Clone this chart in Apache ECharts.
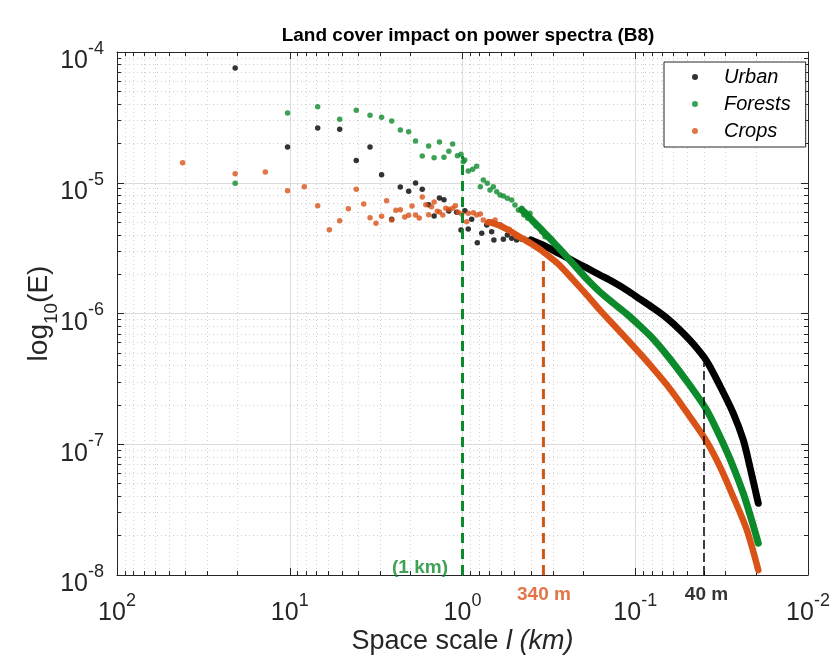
<!DOCTYPE html>
<html>
<head>
<meta charset="utf-8">
<title>Land cover impact on power spectra (B8)</title>
<script src="https://cdn.jsdelivr.net/npm/echarts@6/dist/echarts.min.js"></script>
<style>
html, body { margin: 0; padding: 0; background: #fff; }
#main { width: 837px; height: 660px; }
</style>
</head>
<body>
<div id="main"></div>
<script>
// [space scale (km), E]
// scattered points at large scales + the cloud before the curves tighten
var urbanPts = [[20.7, 7.54e-5], [10.3, 1.88e-5], [6.89, 2.62e-5], [5.14, 2.56e-5], [4.12, 1.48e-5],
  [3.43, 1.88e-5], [2.94, 1.15e-5], [2.57, 5.25e-6], [2.29, 9.28e-6], [2.05, 8.60e-6], [1.87, 9.96e-6],
  [1.71, 8.91e-6], [1.57, 6.79e-6], [1.46, 5.57e-6], [1.36, 7.64e-6], [1.28, 7.42e-6], [1.20, 6.08e-6],
  [1.08, 5.94e-6], [1.02, 4.35e-6], [0.968, 6.11e-6], [0.926, 4.43e-6], [0.885, 5.25e-6], [0.821, 3.48e-6],
  [0.774, 4.11e-6], [0.724, 4.75e-6], [0.678, 4.22e-6], [0.658, 3.65e-6], [0.606, 4.75e-6], [0.580, 3.69e-6],
  [0.550, 3.98e-6], [0.519, 3.76e-6], [0.486, 3.65e-6], [0.454, 3.69e-6], [0.425, 3.65e-6], [0.398, 3.65e-6],
  [0.370, 3.48e-6], [0.348, 3.40e-6], [0.326, 3.21e-6], [0.305, 3.06e-6], [0.286, 2.92e-6]];
var forestPts = [[20.7, 9.90e-6], [10.3, 3.42e-5], [6.89, 3.82e-5], [5.14, 3.06e-5], [4.12, 3.58e-5],
  [3.43, 3.28e-5], [2.94, 3.17e-5], [2.57, 2.97e-5], [2.29, 2.53e-5], [2.05, 2.46e-5], [1.87, 2.09e-5],
  [1.71, 1.60e-5], [1.57, 1.91e-5], [1.46, 1.55e-5], [1.36, 2.05e-5], [1.28, 1.57e-5], [1.20, 1.74e-5],
  [1.14, 1.98e-5], [1.07, 1.61e-5], [1.02, 1.65e-5], [0.99, 1.45e-5], [0.971, 1.49e-5], [0.926, 1.23e-5],
  [0.873, 1.27e-5], [0.828, 1.34e-5], [0.788, 9.33e-6], [0.758, 1.05e-5], [0.719, 9.90e-6], [0.693, 8.81e-6],
  [0.663, 9.33e-6], [0.634, 8.54e-6], [0.606, 8.06e-6], [0.580, 7.92e-6], [0.550, 7.60e-6], [0.519, 7.38e-6],
  [0.497, 6.76e-6], [0.475, 6.19e-6], [0.454, 6.38e-6], [0.441, 5.67e-6], [0.419, 5.34e-6], [0.407, 5.84e-6],
  [0.389, 5.04e-6], [0.375, 4.67e-6], [0.359, 4.56e-6], [0.348, 4.22e-6], [0.333, 3.87e-6], [0.319, 3.83e-6],
  [0.298, 3.54e-6], [0.279, 3.24e-6]];
var cropPts = [[41.7, 1.42e-5], [20.7, 1.17e-5], [13.85, 1.21e-5], [10.3, 8.70e-6], [8.24, 9.33e-6],
  [6.89, 6.68e-6], [5.90, 4.37e-6], [5.14, 5.13e-6], [4.58, 6.33e-6], [4.12, 8.91e-6], [3.73, 6.88e-6],
  [3.43, 5.40e-6], [3.17, 4.90e-6], [2.94, 5.54e-6], [2.75, 7.29e-6], [2.57, 5.19e-6], [2.43, 6.15e-6],
  [2.29, 6.22e-6], [2.16, 5.47e-6], [2.05, 5.64e-6], [1.96, 6.64e-6], [1.87, 5.67e-6], [1.78, 5.37e-6],
  [1.71, 7.78e-6], [1.63, 6.79e-6], [1.57, 5.70e-6], [1.51, 6.56e-6], [1.46, 7.12e-6], [1.40, 6.05e-6],
  [1.36, 5.97e-6], [1.30, 5.67e-6], [1.25, 6.38e-6], [1.20, 6.26e-6], [1.14, 6.38e-6], [1.10, 6.68e-6],
  [1.06, 5.94e-6], [1.01, 5.77e-6], [0.946, 5.04e-6], [0.926, 5.84e-6], [0.866, 5.90e-6], [0.828, 5.67e-6],
  [0.788, 5.77e-6], [0.758, 5.19e-6], [0.719, 4.95e-6], [0.678, 5.04e-6], [0.648, 5.19e-6], [0.620, 4.75e-6],
  [0.593, 4.67e-6], [0.568, 4.48e-6], [0.536, 4.41e-6], [0.508, 4.11e-6], [0.486, 3.87e-6], [0.460, 3.83e-6],
  [0.441, 3.76e-6], [0.416, 3.54e-6], [0.398, 3.44e-6], [0.375, 3.21e-6], [0.356, 3.06e-6], [0.333, 2.89e-6]];

// dense part, where the dots merge into a thick band (band centre)
var urbanTail = [[0.401, 3.65e-6], [0.348, 3.37e-6], [0.305, 3.09e-6], [0.273, 2.85e-6], [0.228, 2.52e-6],
  [0.191, 2.23e-6], [0.160, 1.97e-6], [0.134, 1.74e-6], [0.112, 1.51e-6], [0.0939, 1.29e-6],
  [0.0786, 1.10e-6], [0.0657, 9.24e-7], [0.0551, 7.48e-7], [0.0461, 5.84e-7], [0.0386, 4.33e-7],
  [0.0323, 2.79e-7], [0.0271, 1.73e-7], [0.0237, 1.08e-7], [0.0217, 6.73e-8], [0.0194, 3.54e-8]];
var forestTail = [[0.454, 6.19e-6], [0.419, 5.62e-6], [0.389, 5.05e-6], [0.359, 4.55e-6], [0.333, 4.09e-6],
  [0.298, 3.52e-6], [0.279, 3.20e-6], [0.228, 2.39e-6], [0.191, 1.84e-6], [0.160, 1.46e-6], [0.134, 1.20e-6],
  [0.112, 9.91e-7], [0.0939, 8.02e-7], [0.0786, 6.38e-7], [0.0629, 4.49e-7], [0.0482, 2.81e-7],
  [0.0386, 1.83e-7], [0.0323, 1.14e-7], [0.0276, 7.15e-8], [0.0237, 4.22e-8], [0.0212, 2.63e-8],
  [0.0194, 1.75e-8]];
var cropTail = [[0.703, 5.0e-6], [0.620, 4.75e-6], [0.550, 4.39e-6], [0.486, 3.98e-6], [0.441, 3.68e-6],
  [0.398, 3.40e-6], [0.356, 3.09e-6], [0.333, 2.89e-6], [0.312, 2.70e-6], [0.292, 2.52e-6],
  [0.273, 2.33e-6], [0.228, 1.80e-6], [0.191, 1.39e-6], [0.160, 1.06e-6], [0.134, 8.24e-7],
  [0.112, 6.38e-7], [0.0939, 4.94e-7], [0.0821, 4.04e-7], [0.0629, 2.65e-7], [0.0482, 1.62e-7],
  [0.0386, 1.05e-7], [0.0323, 6.73e-8], [0.0271, 3.97e-8], [0.0226, 2.21e-8], [0.0194, 1.09e-8]];

// characteristic scales marked with dashed lines
var markScales = [1, 0.34, 0.04];
var markTops = [1.6e-5, 2.75e-6, 4.2e-7];
var markNames = ['(1 km)', '340 m', '40 m'];

var names = ['Urban', 'Forests', 'Crops'];
var colors = ['#000000', '#0c8a2c', '#d95319'];
var tailWidths = [7, 7, 6.5];
var font = 'Liberation Sans, Arial, Helvetica, sans-serif';
var narrow = 'Liberation Sans Narrow, Arial Narrow, Liberation Sans, sans-serif';
var ink = '#262626';

var myChart = echarts.init(document.getElementById('main'));

function powLabel(v) {
  var e = Math.round(Math.log10(v));
  return '{b|10}{s|' + e + '}';
}
var powRich = {
  b: { fontSize: 25, lineHeight: 34, verticalAlign: 'bottom', color: ink, fontFamily: font },
  s: { fontSize: 18, lineHeight: 14, verticalAlign: 'top', color: ink, fontFamily: font }
};

function logAxis(pos, lo, hi, showLabel, inverse) {
  return {
    type: 'log', logBase: 10, min: lo, max: hi, position: pos, inverse: inverse,
    axisLine: { show: true, onZero: false, lineStyle: { color: ink, width: 1 } },
    axisTick: { show: true, inside: true, length: 7, lineStyle: { color: ink } },
    minorTick: { show: true, splitNumber: 9, length: 4, lineStyle: { color: ink } },
    splitLine: { show: showLabel, lineStyle: { color: '#dcdcdc', width: 1 } },
    minorSplitLine: { show: showLabel, lineStyle: { color: '#d0d0d0', width: 1, type: [1, 3] } },
    axisLabel: showLabel ? { show: true, formatter: powLabel, rich: powRich, margin: 17 } : { show: false }
  };
}

var xBottom = logAxis('bottom', 0.01, 100, true, true);
xBottom.name = '{n|Space scale }{i|l (km)}';
xBottom.nameLocation = 'middle';
xBottom.nameGap = 53;
xBottom.nameMoveOverlap = false;
xBottom.nameTextStyle = {
  rich: {
    n: { fontSize: 27, color: ink, fontFamily: font },
    i: { fontSize: 27, color: ink, fontFamily: font, fontStyle: 'italic' }
  }
};
var xTop = logAxis('top', 0.01, 100, false, true);

var yLeft = logAxis('left', 1e-8, 1e-4, true, false);
yLeft.axisLabel.margin = 13;
yLeft.axisLabel.padding = [10, 0, 0, 0];
yLeft.name = '{n|log}{sub|10}{n|(E)}';
yLeft.nameLocation = 'middle';
yLeft.nameRotate = 90;
yLeft.nameGap = 56;
yLeft.nameMoveOverlap = false;
yLeft.nameTextStyle = {
  rich: {
    n: { fontSize: 28, lineHeight: 36, verticalAlign: 'top', color: ink, fontFamily: font },
    sub: { fontSize: 19, lineHeight: 18, verticalAlign: 'bottom', color: ink, fontFamily: font }
  }
};
var yRight = logAxis('right', 1e-8, 1e-4, false, false);

var series = [];
var dotSets = [urbanPts, forestPts, cropPts];
var tailSets = [urbanTail, forestTail, cropTail];
for (var i = 0; i < 3; i++) {
  series.push({
    name: names[i], type: 'scatter', data: dotSets[i], symbolSize: 5.5,
    itemStyle: { color: colors[i] }, xAxisIndex: 0, yAxisIndex: 0
  });
  series.push({
    name: names[i], type: 'line', data: tailSets[i], symbol: 'none', smooth: 0.3,
    lineStyle: { color: colors[i], width: tailWidths[i], cap: 'round', join: 'round' },
    itemStyle: { color: colors[i] }, xAxisIndex: 0, yAxisIndex: 0
  });
}

// dashed markers and their labels
var markColors = ['#0c8a2c', '#d95319', '#000000'];
var markWidths = [3, 3, 1.5];
var markDash = [[10, 6], [10, 6], [9, 4]];
var labelPos = [[-14, -7], [1, 20], [3, 20]];
var labelAlign = ['right', 'center', 'center'];
for (var j = 0; j < markScales.length; j++) {
  series.push({
    type: 'line', data: [[markScales[j], 1e-8], [markScales[j], markTops[j]]], symbol: 'none',
    lineStyle: { color: markColors[j], width: markWidths[j], type: markDash[j] },
    xAxisIndex: 0, yAxisIndex: 0, silent: true, z: 5
  });
  series.push({
    type: 'scatter', data: [[markScales[j], 1e-8]], symbolSize: 1, silent: true, z: 6,
    itemStyle: { color: 'rgba(0,0,0,0)' }, xAxisIndex: 0, yAxisIndex: 0,
    label: {
      show: true, formatter: markNames[j], position: labelPos[j], align: labelAlign[j],
      verticalAlign: 'middle', color: markColors[j], fontSize: 19, fontWeight: 'bold', fontFamily: narrow
    }
  });
}

var option = {
  backgroundColor: '#ffffff',
  animation: false,
  title: {
    text: 'Land cover impact on power spectra (B8)',
    left: 463, top: 21, textAlign: 'center',
    textStyle: { fontSize: 19, fontWeight: 'bold', color: '#000', fontFamily: font }
  },
  grid: { left: 117, right: 29, top: 52, bottom: 85, containLabel: false },
  legend: {
    data: names, orient: 'vertical', left: 664, top: 62,
    icon: 'circle', itemWidth: 6, itemHeight: 6, itemGap: 5,
    padding: [4, 15, 5, 28],
    borderColor: ink, borderWidth: 1, backgroundColor: '#ffffff',
    textStyle: { fontSize: 20, fontStyle: 'italic', color: '#000', fontFamily: font,
      lineHeight: 22, padding: [0, 0, 0, 21] }
  },
  xAxis: [xBottom, xTop],
  yAxis: [yLeft, yRight],
  series: series
};
myChart.setOption(option);
</script>
</body>
</html>
